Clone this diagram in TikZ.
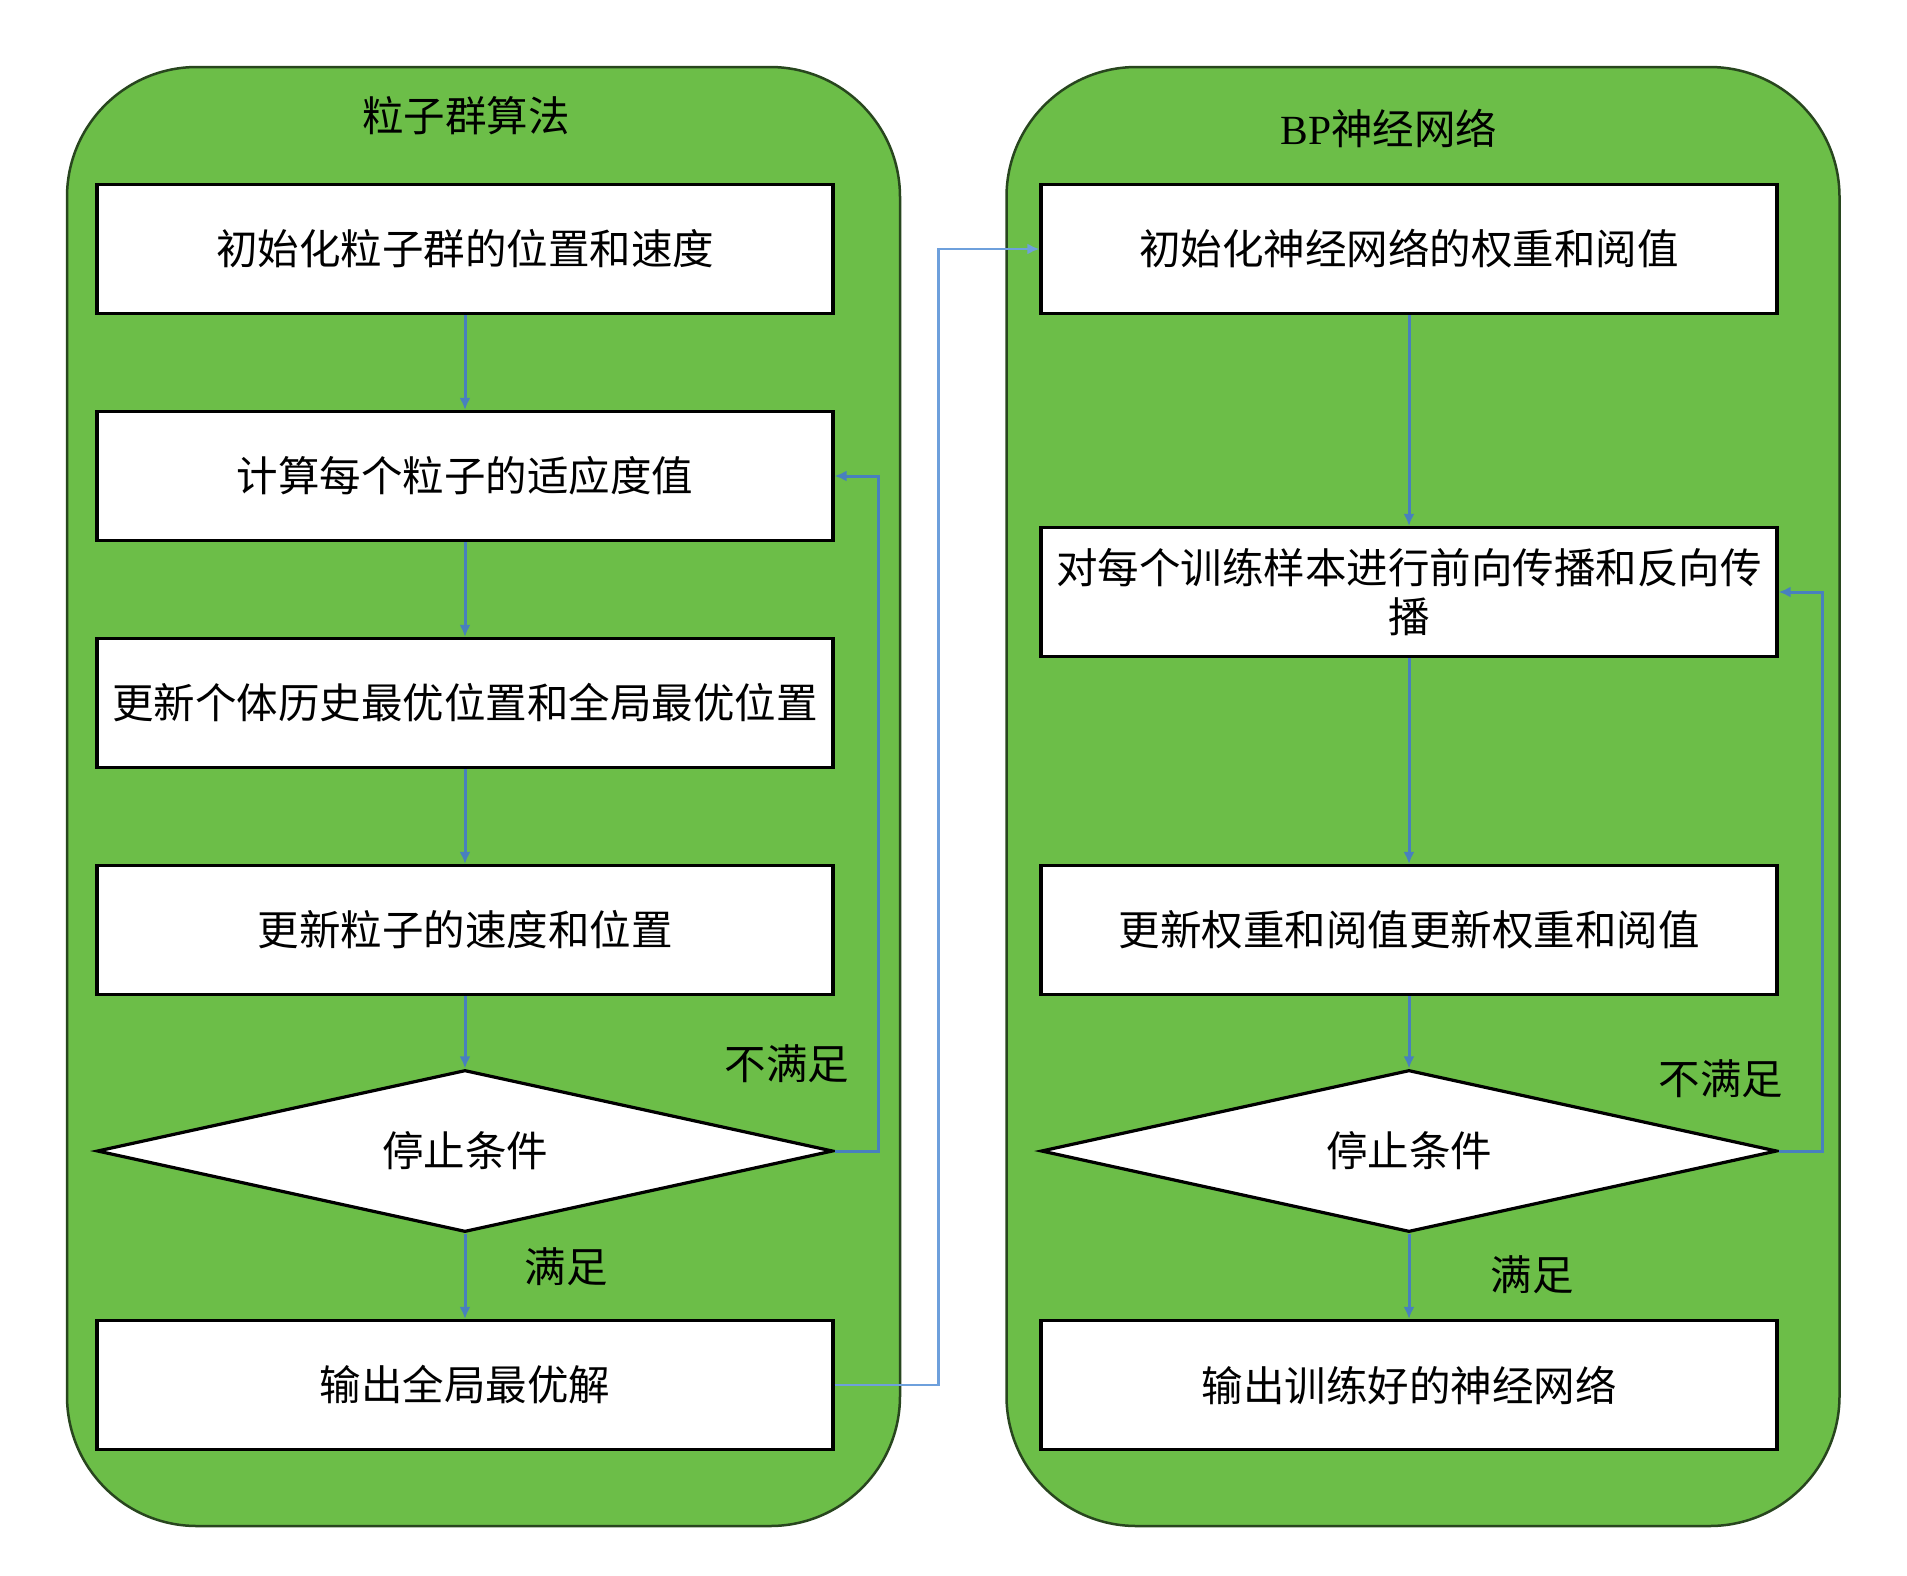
\documentclass[tikz,border=0pt]{standalone}
\usepackage{fontspec}
\newfontfamily\cjk{Noto Sans CJK SC}
\newfontfamily\latinserif{Liberation Serif}
\usetikzlibrary{shapes.geometric,arrows.meta}
\definecolor{panelgreen}{RGB}{108,190,72}
\definecolor{paneledge}{RGB}{40,70,30}
\definecolor{linkblue}{RGB}{72,128,190}
\definecolor{crossblue}{RGB}{110,160,220}
\begin{document}
\begin{tikzpicture}[x=1pt,y=-1pt,
  txt/.style={font=\cjk\fontsize{41.5}{49}\selectfont},
  panel/.style={draw=paneledge, line width=2.5pt, fill=panelgreen, rounded corners=130pt,
    minimum width=833pt, minimum height=1459pt, inner sep=0pt},
  stepbox/.style={txt, draw=black, line width=3.2pt, fill=white, minimum width=736pt,
    minimum height=129pt, inner sep=0pt, align=center},
  decision/.style={txt, diamond, aspect=4.5, draw=black, line width=3.2pt, fill=white,
    minimum width=736pt, minimum height=162pt, inner sep=0pt},
  flow/.style={draw=linkblue, line width=3pt, -{Latex[length=12pt,width=11pt]}},
  crossflow/.style={draw=crossblue, line width=2.5pt, -{Latex[length=12pt,width=11pt]}},
  lbl/.style={txt}
]
\useasboundingbox[fill=white] (0,0) rectangle (1907,1575);

% panels
\node[panel] (pL) at (483.5,796.5) {};
\node[panel] (pR) at (1423,796.5) {};

% titles
\node[lbl] (tL) at (466,116) {粒子群算法};
\node[lbl] (tR) at (1389,128) {{\latinserif BP}神经网络};

% left column
\node[stepbox] (b1) at (465,249) {初始化粒子群的位置和速度};
\node[stepbox] (b2) at (465,476) {计算每个粒子的适应度值};
\node[stepbox] (b3) at (465,703) {更新个体历史最优位置和全局最优位置};
\node[stepbox] (b4) at (465,930) {更新粒子的速度和位置};
\node[decision] (dL) at (465,1151) {停止条件};
\node[stepbox] (b5) at (465,1385) {输出全局最优解};

% right column
\node[stepbox] (r1) at (1409,249) {初始化神经网络的权重和阅值};
\node[stepbox] (r2) at (1409,592) {对每个训练样本进行前向传播和反向传\\播};
\node[stepbox] (r3) at (1409,930) {更新权重和阅值更新权重和阅值};
\node[decision] (dR) at (1409,1151) {停止条件};
\node[stepbox] (r5) at (1409,1385) {输出训练好的神经网络};

% labels
\node[lbl] (nsL) at (787,1064) {不满足};
\node[lbl] (sL) at (566,1267) {满足};
\node[lbl] (nsR) at (1721,1079) {不满足};
\node[lbl] (sR) at (1532,1275) {满足};

% left flow
\draw[flow] (b1) -- (b2);
\draw[flow] (b2) -- (b3);
\draw[flow] (b3) -- (b4);
\draw[flow] (b4) -- (dL);
\draw[flow] (dL) -- (b5);
\draw[flow] (dL.east) -- ++(44,0) |- (b2.east);

% right flow
\draw[flow] (r1) -- (r2);
\draw[flow] (r2) -- (r3);
\draw[flow] (r3) -- (dR);
\draw[flow] (dR) -- (r5);
\draw[flow] (dR.east) -- ++(44,0) |- (r2.east);

% cross link
\draw[crossflow] (b5.east) -- ++(104,0) |- (r1.west);
\end{tikzpicture}
\end{document}
